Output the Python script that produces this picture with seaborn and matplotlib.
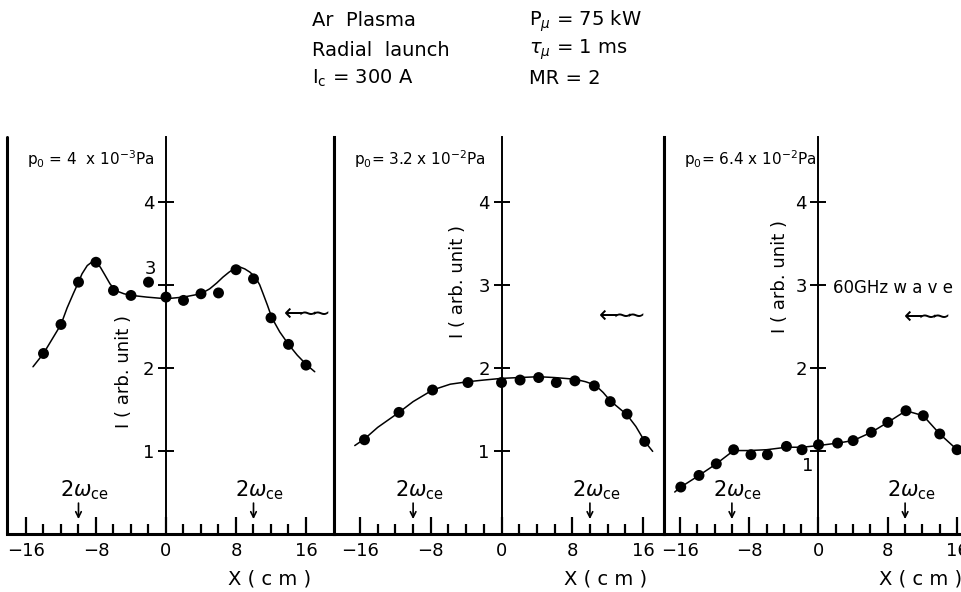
import numpy as np
import matplotlib
matplotlib.use("Agg")
import matplotlib.pyplot as plt
import seaborn as sns

# ---------------------------------------------------
# datos (X en cm, I en unidades arbitrarias)
# ---------------------------------------------------
# p0 = 4 x 10^-3 Pa
P1_X = [-14, -12, -10, -8, -6, -4, -2, 0, 2, 4, 6, 8, 10, 12, 14, 16]
P1_I = [2.17, 2.52, 3.03, 3.27, 2.93, 2.87, 3.03, 2.85, 2.81, 2.89, 2.90, 3.18, 3.07, 2.60, 2.28, 2.03]
P1_FIT_X = [-15.2, -14.0, -12.0, -11.3, -10.6, -10.0, -9.6, -9.0, -8.5, -8.0, -7.5, -7.0,
            -6.4, -5.8, -4.8, -3.9, -2.2, 0.0, 2.0, 4.0, 5.0, 5.8, 6.5, 7.2, 7.9, 8.5,
            9.0, 9.6, 10.2, 10.7, 11.1, 11.6, 12.1, 13.0, 14.0, 15.0, 16.1, 17.0]
P1_FIT_I = [2.01, 2.17, 2.52, 2.72, 2.89, 3.03, 3.13, 3.23, 3.27, 3.27, 3.21, 3.12,
            3.01, 2.93, 2.89, 2.87, 2.85, 2.83, 2.85, 2.89, 2.95, 3.02, 3.09, 3.15, 3.20, 3.21,
            3.19, 3.15, 3.09, 3.00, 2.89, 2.75, 2.60, 2.43, 2.28, 2.15, 2.03, 1.95]

# p0 = 3.2 x 10^-2 Pa
P2_X = [-15.5, -11.6, -7.8, -3.8, 0.0, 2.1, 4.2, 6.2, 8.3, 10.5, 12.3, 14.2, 16.2]
P2_I = [1.13, 1.46, 1.73, 1.82, 1.82, 1.85, 1.88, 1.82, 1.84, 1.78, 1.59, 1.44, 1.11]
P2_FIT_X = [-16.6, -15.5, -14.0, -11.6, -10.0, -7.8, -5.8, -3.8, -2.0, 0.0, 2.0, 4.2,
            6.0, 8.3, 9.5, 10.6, 11.5, 12.3, 13.2, 14.2, 15.2, 16.2, 17.1]
P2_FIT_I = [1.06, 1.14, 1.28, 1.46, 1.59, 1.73, 1.80, 1.83, 1.85, 1.87, 1.88, 1.89,
            1.88, 1.86, 1.83, 1.79, 1.70, 1.60, 1.52, 1.43, 1.29, 1.11, 0.99]

# p0 = 6.4 x 10^-2 Pa
P3_X = [-15.9, -13.8, -11.8, -9.8, -7.8, -5.9, -3.7, -1.9, 0.0, 2.2, 4.0, 6.1, 8.0, 10.1, 12.1, 14.0, 16.0]
P3_I = [0.56, 0.70, 0.84, 1.01, 0.95, 0.95, 1.05, 1.01, 1.07, 1.09, 1.12, 1.22, 1.34, 1.48, 1.42, 1.20, 1.01]
P3_FIT_X = [-16.6, -15.9, -13.8, -11.8, -9.8, -8.0, -6.0, -3.7, -1.9, 0.0, 2.2, 4.0,
            6.1, 8.0, 10.1, 12.1, 14.0, 16.0, 16.6]
P3_FIT_I = [0.50, 0.56, 0.70, 0.84, 1.00, 1.00, 1.01, 1.04, 1.04, 1.06, 1.09, 1.12,
            1.22, 1.34, 1.48, 1.42, 1.20, 1.01, 0.96]

TITLES = [r"p$_0$ = 4  x 10$^{-3}$Pa", r"p$_0$= 3.2 x 10$^{-2}$Pa", r"p$_0$= 6.4 x 10$^{-2}$Pa"]
YTICKS = [1, 2, 3, 4]
XTICKS = [-16, -8, 0, 8, 16]
RESONANCE_X = [-10, 10]
# ---------------------------------------------------

W, H = 962, 592
Y_TOP = 4.78
WAVE = r"$\leftarrow\!\!\!\!\sim\!\!\!\!\sim$"


def draw_panel(ax, px, py, fx, fy, xlim, title, skip_tick, ylab_xy, wave_xy, last=False):
    sns.lineplot(x=fx, y=fy, ax=ax, color="black", lw=1.1, sort=False, estimator=None)
    sns.scatterplot(x=px, y=py, ax=ax, color="black", s=62, edgecolor="none", zorder=3)
    ax.set_xlim(xlim)
    ax.set_ylim(0, Y_TOP)

    # eje vertical centrado en X = 0
    ax.spines["left"].set_position(("data", 0))
    ax.spines["left"].set_linewidth(1.4)
    ax.spines["top"].set_visible(False)
    ax.spines["bottom"].set_linewidth(2.2)
    ax.spines["right"].set_linewidth(2.2)
    if last:
        ax.spines["right"].set_visible(False)
    ax.axvline(xlim[0], color="black", lw=2.2, clip_on=False)

    ax.set_yticks(YTICKS)
    ax.set_yticklabels([str(t) if t != skip_tick[0] else "" for t in YTICKS])
    if skip_tick[0] is not None:
        ax.text(skip_tick[1], skip_tick[2], str(skip_tick[0]), fontsize=13, ha="center", va="center")
    ax.tick_params(axis="y", left=True, direction="inout", length=11, width=1.4, pad=3,
                   labelsize=13, color="black")

    ax.set_xticks(XTICKS)
    ax.set_xticks(np.arange(-16, 17, 2), minor=True)
    ax.tick_params(axis="x", which="major", bottom=True, direction="in", length=12, width=1.6,
                   pad=6, labelsize=13, color="black")
    ax.tick_params(axis="x", which="minor", bottom=True, direction="in", length=7, width=1.6,
                   color="black")

    ax.set_xlabel("X ( c m )", fontsize=14)
    ax.xaxis.set_label_coords((11.8 - xlim[0]) / (xlim[1] - xlim[0]), -0.09)
    ax.set_ylabel("")
    ax.text(ylab_xy[0], ylab_xy[1], "I ( arb. unit )", rotation=90, fontsize=13, ha="center", va="center")

    ax.text(xlim[0] + 2.3, 4.51, title, fontsize=11, ha="left", va="center")
    ax.text(wave_xy[0], wave_xy[1], WAVE, fontsize=17, ha="center", va="center")

    for xr in RESONANCE_X:
        ax.annotate("", xy=(xr, 0.14), xytext=(xr, 0.40),
                    arrowprops=dict(arrowstyle="->", color="black", lw=1.2))
        ax.text(xr + 0.7, 0.52, r"2$\omega_{\rm ce}$", fontsize=15, ha="center", va="center")


def main():
    sns.set_style("white")
    plt.rcParams["font.family"] = ["DejaVu Sans"]
    plt.rcParams["mathtext.fontset"] = "dejavusans"
    plt.rcParams["text.color"] = "black"
    plt.rcParams["axes.labelcolor"] = "black"
    plt.rcParams["xtick.color"] = "black"
    plt.rcParams["ytick.color"] = "black"
    plt.rcParams["axes.edgecolor"] = "black"

    fig = plt.figure(figsize=(W / 100, H / 100), dpi=100)
    bottom = (H - 533.5) / H
    height = (533.5 - 137) / H

    ax1 = fig.add_axes([7 / W, bottom, 327 / W, height])
    ax2 = fig.add_axes([334 / W, bottom, 330 / W, height])
    ax3 = fig.add_axes([664 / W, bottom, 298 / W, height])

    draw_panel(ax1, P1_X, P1_I, P1_FIT_X, P1_FIT_I, (-18.17, 19.2), TITLES[0],
               (3, -1.8, 3.19), (-4.8, 1.95), (15.8, 2.66))
    draw_panel(ax2, P2_X, P2_I, P2_FIT_X, P2_FIT_I, (-18.95, 18.38), TITLES[1],
               (None, 0, 0), (-4.9, 3.04), (13.4, 2.63))
    draw_panel(ax3, P3_X, P3_I, P3_FIT_X, P3_FIT_I, (-17.84, 16.57), TITLES[2],
               (1, -1.2, 0.81), (-4.4, 3.1), (12.3, 2.62), last=True)
    ax3.text(1.7, 2.96, "60GHz w a v e", fontsize=12, ha="left", va="center")

    # cabecera con las condiciones
    fig.text(312 / W, 1 - 21 / H, "Ar  Plasma", fontsize=14, va="center")
    fig.text(312 / W, 1 - 50 / H, "Radial  launch", fontsize=14, va="center")
    fig.text(312 / W, 1 - 78 / H, r"I$_{\rm c}$ = 300 A", fontsize=14, va="center")
    fig.text(529 / W, 1 - 21 / H, r"P$_{\mu}$ = 75 kW", fontsize=14, va="center")
    fig.text(529 / W, 1 - 50 / H, r"$\tau_{\mu}$ = 1 ms", fontsize=14, va="center")
    fig.text(529 / W, 1 - 78 / H, "MR = 2", fontsize=14, va="center")

    fig.savefig("out.png", dpi=100)


if __name__ == "__main__":
    main()
